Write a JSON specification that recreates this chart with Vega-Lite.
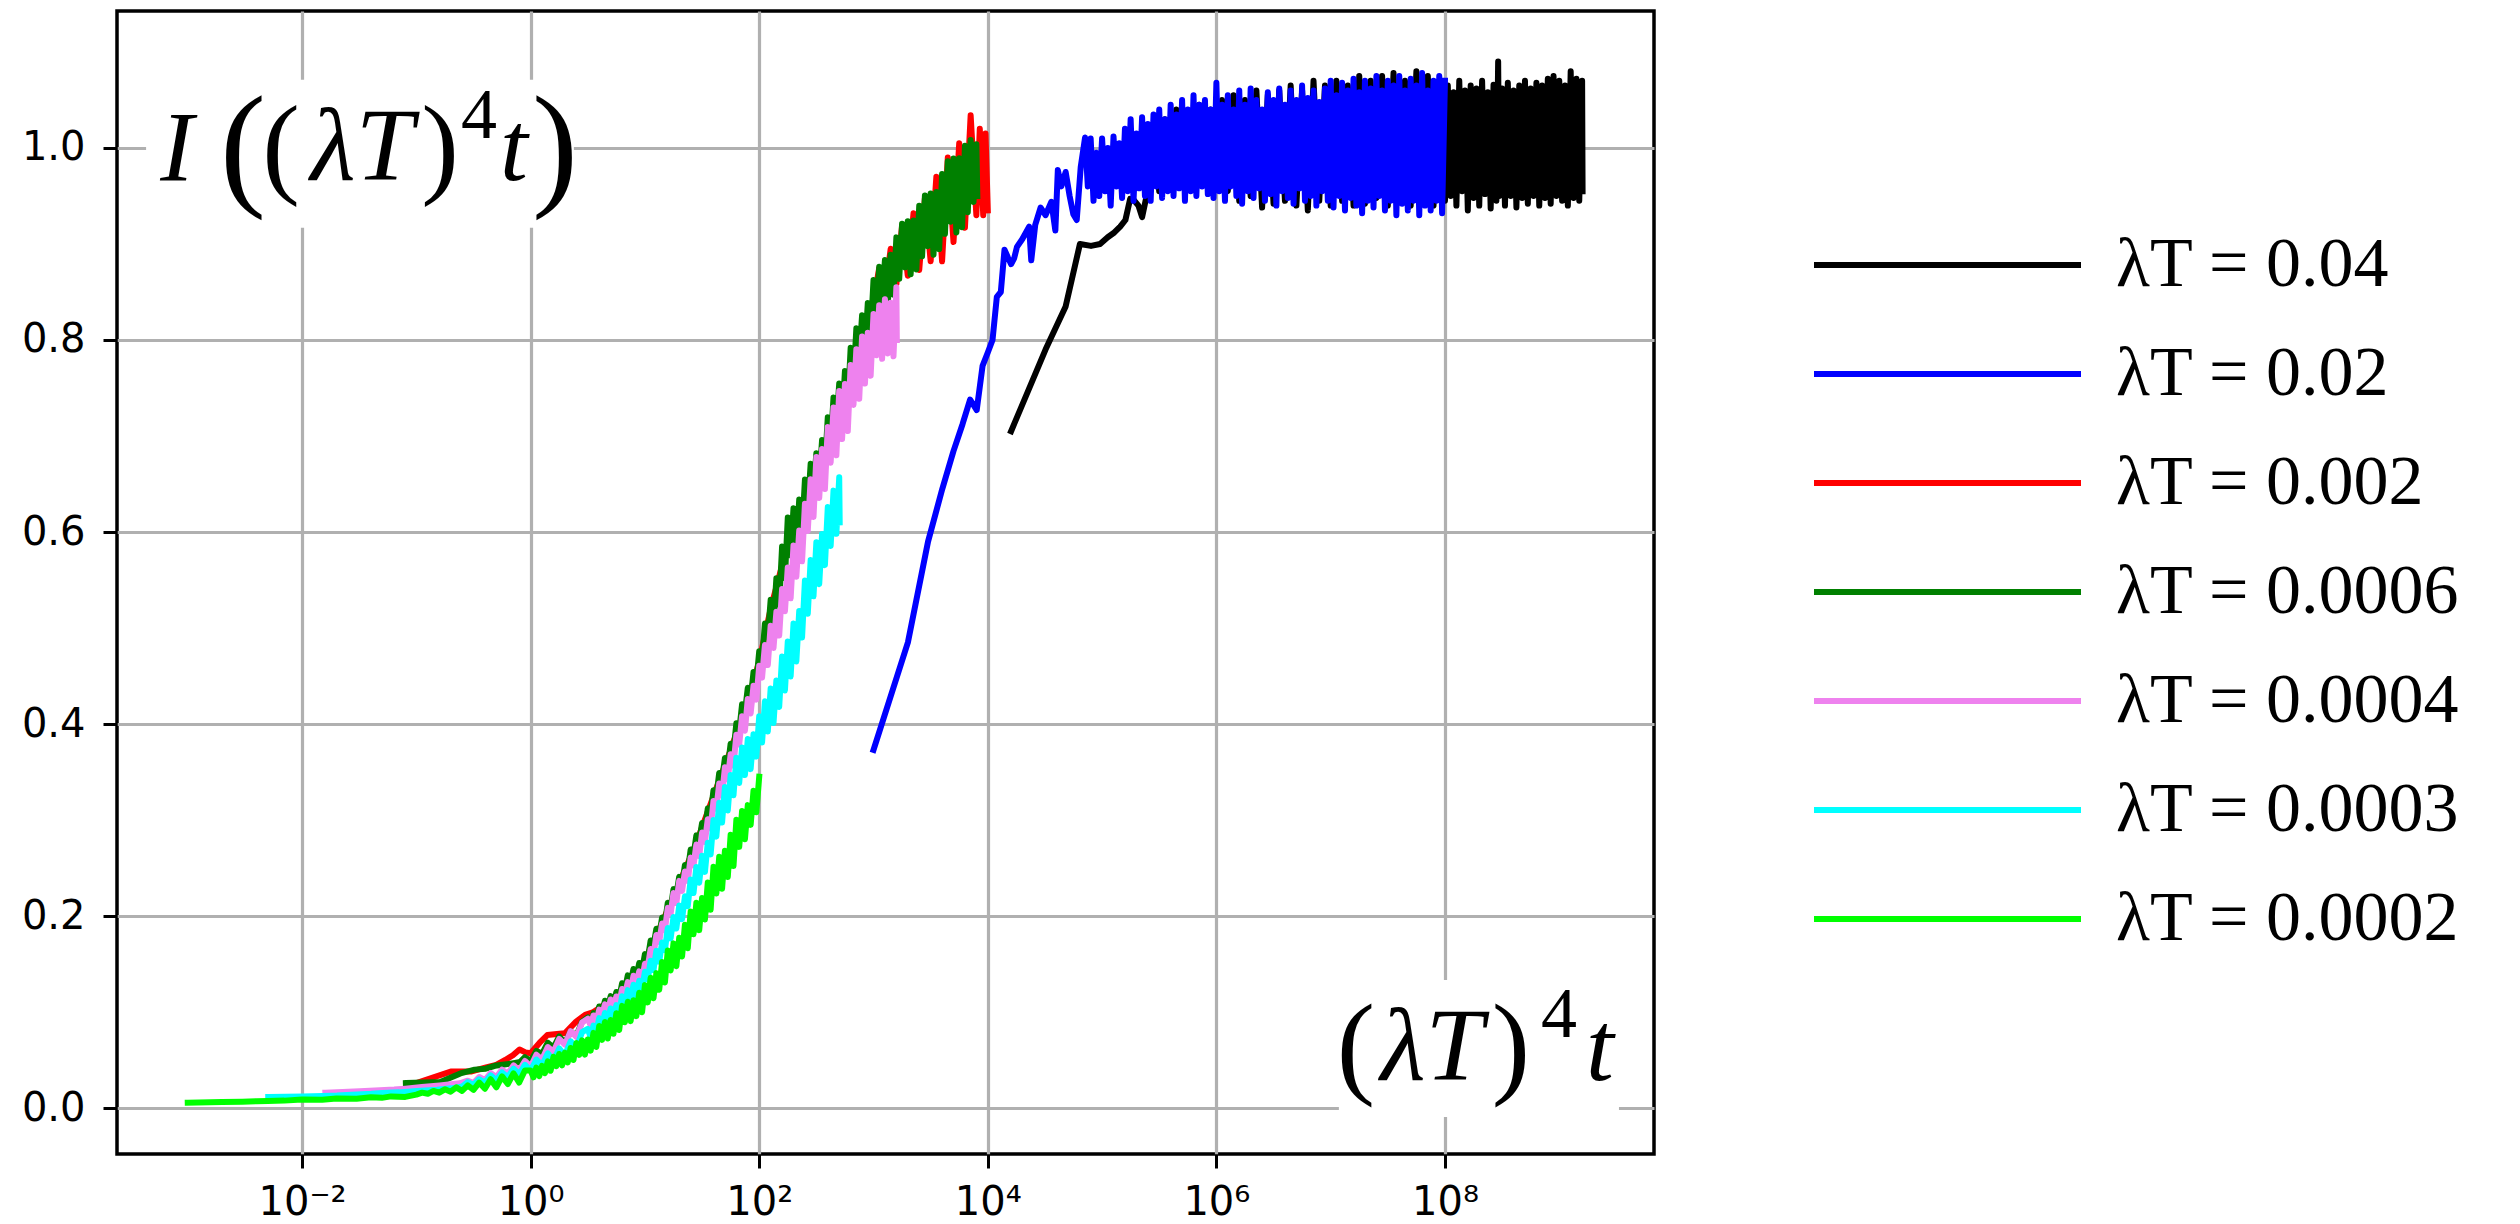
{
"$schema": "https://vega.github.io/schema/vega-lite/v6.json",
"width": 1537, "height": 1143,
"autosize": {"type": "none"},
"padding": {"left": 117, "top": 11, "right": 866, "bottom": 70},
"background": "white",
"config": {
 "view": {"stroke": "black", "strokeWidth": 3.5},
 "axis": {"domain": false, "grid": true, "gridColor": "#b0b0b0", "gridWidth": 3.2, "tickColor": "black", "tickWidth": 3, "tickSize": 14, "labelFont": "DejaVu Sans", "labelFontSize": 40, "labelColor": "black", "title": null}
},
"layer": [
{
"data": {"values": [
{"lt":"0.04","x":16000,"y":0.705},{"lt":"0.04","x":32000,"y":0.79},{"lt":"0.04","x":48000,"y":0.835},{"lt":"0.04","x":64000,"y":0.9},{"lt":"0.04","x":80000,"y":0.898},{"lt":"0.04","x":96000,"y":0.9},{"lt":"0.04","x":112000,"y":0.907},{"lt":"0.04","x":128000,"y":0.912},{"lt":"0.04","x":144000,"y":0.918},{"lt":"0.04","x":160000,"y":0.925},{"lt":"0.04","x":176000,"y":0.947},{"lt":"0.04","x":192000,"y":0.945},{"lt":"0.04","x":208000,"y":0.94},{"lt":"0.04","x":224000,"y":0.928},{"lt":"0.04","x":240000,"y":0.945},{"lt":"0.04","x":256000,"y":0.955},
{"lt":"0.04","x":2.818e5,"y":1.02},{"lt":"0.04","x":3.162e5,"y":0.955},{"lt":"0.04","x":3.548e5,"y":1.03},{"lt":"0.04","x":3.981e5,"y":0.965},{"lt":"0.04","x":4.467e5,"y":1.04},{"lt":"0.04","x":5.012e5,"y":0.962},{"lt":"0.04","x":5.623e5,"y":1.035},{"lt":"0.04","x":6.31e5,"y":0.958},{"lt":"0.04","x":7.079e5,"y":1.045},{"lt":"0.04","x":7.943e5,"y":0.965},{"lt":"0.04","x":8.913e5,"y":1.04},
{"lt":"0.04","x":1e6,"y":0.96},{"lt":"0.04","x":1.122e6,"y":1.05},{"lt":"0.04","x":1.259e6,"y":0.955},{"lt":"0.04","x":1.413e6,"y":1.055},{"lt":"0.04","x":1.585e6,"y":0.945},{"lt":"0.04","x":1.778e6,"y":1.05},{"lt":"0.04","x":1.995e6,"y":0.95},{"lt":"0.04","x":2.239e6,"y":1.06},{"lt":"0.04","x":2.512e6,"y":0.938},{"lt":"0.04","x":2.818e6,"y":1.055},{"lt":"0.04","x":3.162e6,"y":0.942},{"lt":"0.04","x":3.548e6,"y":1.06},{"lt":"0.04","x":3.981e6,"y":0.945},{"lt":"0.04","x":4.467e6,"y":1.065},{"lt":"0.04","x":5.012e6,"y":0.94},{"lt":"0.04","x":5.623e6,"y":1.06},{"lt":"0.04","x":6.31e6,"y":0.935},{"lt":"0.04","x":7.079e6,"y":1.07},{"lt":"0.04","x":7.943e6,"y":0.945},{"lt":"0.04","x":8.913e6,"y":1.065},
{"lt":"0.04","x":1e7,"y":0.94},{"lt":"0.04","x":1.122e7,"y":1.07},{"lt":"0.04","x":1.259e7,"y":0.945},{"lt":"0.04","x":1.413e7,"y":1.065},{"lt":"0.04","x":1.585e7,"y":0.94},{"lt":"0.04","x":1.778e7,"y":1.075},{"lt":"0.04","x":1.995e7,"y":0.942},{"lt":"0.04","x":2.239e7,"y":1.07},{"lt":"0.04","x":2.512e7,"y":0.948},{"lt":"0.04","x":2.818e7,"y":1.075},{"lt":"0.04","x":3.162e7,"y":0.94},{"lt":"0.04","x":3.548e7,"y":1.078},{"lt":"0.04","x":3.981e7,"y":0.945},{"lt":"0.04","x":4.467e7,"y":1.07},{"lt":"0.04","x":5.012e7,"y":0.94},{"lt":"0.04","x":5.623e7,"y":1.08},{"lt":"0.04","x":6.31e7,"y":0.945},{"lt":"0.04","x":7.079e7,"y":1.075},{"lt":"0.04","x":7.943e7,"y":0.94},{"lt":"0.04","x":8.913e7,"y":1.07},
{"lt":"0.04","x":1e8,"y":0.945},{"lt":"0.04","x":1.059e8,"y":1.065},{"lt":"0.04","x":1.122e8,"y":0.95},{"lt":"0.04","x":1.189e8,"y":1.058},{"lt":"0.04","x":1.259e8,"y":0.94},{"lt":"0.04","x":1.334e8,"y":1.07},{"lt":"0.04","x":1.413e8,"y":0.955},{"lt":"0.04","x":1.496e8,"y":1.06},{"lt":"0.04","x":1.585e8,"y":0.935},{"lt":"0.04","x":1.679e8,"y":1.065},{"lt":"0.04","x":1.778e8,"y":0.948},{"lt":"0.04","x":1.884e8,"y":1.062},{"lt":"0.04","x":1.995e8,"y":0.94},{"lt":"0.04","x":2.113e8,"y":1.07},{"lt":"0.04","x":2.239e8,"y":0.952},{"lt":"0.04","x":2.371e8,"y":1.058},{"lt":"0.04","x":2.512e8,"y":0.937},{"lt":"0.04","x":2.661e8,"y":1.066},{"lt":"0.04","x":2.818e8,"y":0.945},{"lt":"0.04","x":2.92e8,"y":1.09},{"lt":"0.04","x":2.985e8,"y":0.95},{"lt":"0.04","x":3.162e8,"y":1.062},{"lt":"0.04","x":3.35e8,"y":0.94},{"lt":"0.04","x":3.548e8,"y":1.068},{"lt":"0.04","x":3.758e8,"y":0.95},{"lt":"0.04","x":3.981e8,"y":1.06},{"lt":"0.04","x":4.217e8,"y":0.938},{"lt":"0.04","x":4.467e8,"y":1.065},{"lt":"0.04","x":4.732e8,"y":0.948},{"lt":"0.04","x":5.012e8,"y":1.07},{"lt":"0.04","x":5.309e8,"y":0.942},{"lt":"0.04","x":5.623e8,"y":1.062},{"lt":"0.04","x":5.957e8,"y":0.95},{"lt":"0.04","x":6.31e8,"y":1.068},{"lt":"0.04","x":6.683e8,"y":0.94},{"lt":"0.04","x":7.079e8,"y":1.065},{"lt":"0.04","x":7.499e8,"y":0.948},{"lt":"0.04","x":7.943e8,"y":1.072},{"lt":"0.04","x":8.414e8,"y":0.942},{"lt":"0.04","x":8.913e8,"y":1.075},{"lt":"0.04","x":9.441e8,"y":0.95},{"lt":"0.04","x":1e9,"y":1.07},{"lt":"0.04","x":1.059e9,"y":0.945},{"lt":"0.04","x":1.122e9,"y":1.065},{"lt":"0.04","x":1.189e9,"y":0.94},{"lt":"0.04","x":1.259e9,"y":1.08},{"lt":"0.04","x":1.334e9,"y":0.948},{"lt":"0.04","x":1.413e9,"y":1.072},{"lt":"0.04","x":1.496e9,"y":0.945},{"lt":"0.04","x":1.585e9,"y":1.07},{"lt":"0.04","x":1.6e9,"y":0.955},

{"lt":"0.02","x":1000,"y":0.373},{"lt":"0.02","x":2000,"y":0.485},{"lt":"0.02","x":3000,"y":0.59},{"lt":"0.02","x":4000,"y":0.645},{"lt":"0.02","x":5000,"y":0.684},{"lt":"0.02","x":6000,"y":0.712},{"lt":"0.02","x":7000,"y":0.738},{"lt":"0.02","x":8000,"y":0.727},{"lt":"0.02","x":9000,"y":0.773},{"lt":"0.02","x":10000,"y":0.787},{"lt":"0.02","x":11000,"y":0.8},{"lt":"0.02","x":12000,"y":0.845},{"lt":"0.02","x":13000,"y":0.85},{"lt":"0.02","x":14000,"y":0.894},{"lt":"0.02","x":15000,"y":0.886},{"lt":"0.02","x":16000,"y":0.879},{"lt":"0.02","x":17000,"y":0.885},{"lt":"0.02","x":18000,"y":0.897},{"lt":"0.02","x":20000,"y":0.905},{"lt":"0.02","x":23000,"y":0.918},{"lt":"0.02","x":24000,"y":0.883},{"lt":"0.02","x":26000,"y":0.92},{"lt":"0.02","x":29000,"y":0.938},{"lt":"0.02","x":32000,"y":0.93},{"lt":"0.02","x":36000,"y":0.944},{"lt":"0.02","x":39000,"y":0.914},{"lt":"0.02","x":41000,"y":0.977},{"lt":"0.02","x":44000,"y":0.96},{"lt":"0.02","x":48000,"y":0.975},{"lt":"0.02","x":52000,"y":0.95},{"lt":"0.02","x":56000,"y":0.931},{"lt":"0.02","x":60000,"y":0.925},{"lt":"0.02","x":65000,"y":0.98},{"lt":"0.02","x":71000,"y":1.011},{"lt":"0.02","x":75000,"y":0.96},
{"lt":"0.02","x":7.943e4,"y":1.01},{"lt":"0.02","x":8.414e4,"y":0.945},{"lt":"0.02","x":8.913e4,"y":0.995},{"lt":"0.02","x":9.441e4,"y":0.95},{"lt":"0.02","x":1e5,"y":1.01},{"lt":"0.02","x":1.059e5,"y":0.955},{"lt":"0.02","x":1.122e5,"y":1.0},{"lt":"0.02","x":1.189e5,"y":0.94},{"lt":"0.02","x":1.259e5,"y":1.012},{"lt":"0.02","x":1.334e5,"y":0.96},{"lt":"0.02","x":1.413e5,"y":1.005},{"lt":"0.02","x":1.496e5,"y":0.948},{"lt":"0.02","x":1.585e5,"y":1.02},{"lt":"0.02","x":1.679e5,"y":0.955},{"lt":"0.02","x":1.778e5,"y":1.03},{"lt":"0.02","x":1.884e5,"y":0.945},{"lt":"0.02","x":1.995e5,"y":1.015},{"lt":"0.02","x":2.113e5,"y":0.958},{"lt":"0.02","x":2.239e5,"y":1.032},{"lt":"0.02","x":2.371e5,"y":0.95},{"lt":"0.02","x":2.512e5,"y":1.025},{"lt":"0.02","x":2.661e5,"y":0.945},{"lt":"0.02","x":2.818e5,"y":1.035},{"lt":"0.02","x":2.985e5,"y":0.96},{"lt":"0.02","x":3.162e5,"y":1.04},{"lt":"0.02","x":3.35e5,"y":0.948},{"lt":"0.02","x":3.548e5,"y":1.03},{"lt":"0.02","x":3.758e5,"y":0.955},{"lt":"0.02","x":3.981e5,"y":1.045},{"lt":"0.02","x":4.217e5,"y":0.95},{"lt":"0.02","x":4.467e5,"y":1.035},{"lt":"0.02","x":4.732e5,"y":0.958},{"lt":"0.02","x":5.012e5,"y":1.05},{"lt":"0.02","x":5.309e5,"y":0.945},{"lt":"0.02","x":5.623e5,"y":1.04},{"lt":"0.02","x":5.957e5,"y":0.955},{"lt":"0.02","x":6.31e5,"y":1.055},{"lt":"0.02","x":6.683e5,"y":0.95},{"lt":"0.02","x":7.079e5,"y":1.045},{"lt":"0.02","x":7.499e5,"y":0.96},{"lt":"0.02","x":7.943e5,"y":1.05},{"lt":"0.02","x":8.414e5,"y":0.952},{"lt":"0.02","x":8.913e5,"y":1.04},{"lt":"0.02","x":9.441e5,"y":0.948},
{"lt":"0.02","x":1e6,"y":1.068},{"lt":"0.02","x":1.059e6,"y":0.955},{"lt":"0.02","x":1.122e6,"y":1.045},{"lt":"0.02","x":1.189e6,"y":0.945},{"lt":"0.02","x":1.259e6,"y":1.055},{"lt":"0.02","x":1.334e6,"y":0.96},{"lt":"0.02","x":1.413e6,"y":1.04},{"lt":"0.02","x":1.496e6,"y":0.95},{"lt":"0.02","x":1.585e6,"y":1.06},{"lt":"0.02","x":1.679e6,"y":0.942},{"lt":"0.02","x":1.778e6,"y":1.045},{"lt":"0.02","x":1.884e6,"y":0.955},{"lt":"0.02","x":1.995e6,"y":1.062},{"lt":"0.02","x":2.113e6,"y":0.948},{"lt":"0.02","x":2.239e6,"y":1.05},{"lt":"0.02","x":2.371e6,"y":0.958},{"lt":"0.02","x":2.512e6,"y":1.04},{"lt":"0.02","x":2.661e6,"y":0.945},{"lt":"0.02","x":2.818e6,"y":1.058},{"lt":"0.02","x":2.985e6,"y":0.952},{"lt":"0.02","x":3.162e6,"y":1.05},{"lt":"0.02","x":3.35e6,"y":0.94},{"lt":"0.02","x":3.548e6,"y":1.062},{"lt":"0.02","x":3.758e6,"y":0.955},{"lt":"0.02","x":3.981e6,"y":1.045},{"lt":"0.02","x":4.217e6,"y":0.948},{"lt":"0.02","x":4.467e6,"y":1.06},{"lt":"0.02","x":4.732e6,"y":0.942},{"lt":"0.02","x":5.012e6,"y":1.05},{"lt":"0.02","x":5.309e6,"y":0.958},{"lt":"0.02","x":5.623e6,"y":1.065},{"lt":"0.02","x":5.957e6,"y":0.945},{"lt":"0.02","x":6.31e6,"y":1.052},{"lt":"0.02","x":6.683e6,"y":0.95},{"lt":"0.02","x":7.079e6,"y":1.06},{"lt":"0.02","x":7.499e6,"y":0.94},{"lt":"0.02","x":7.943e6,"y":1.048},{"lt":"0.02","x":8.414e6,"y":0.955},{"lt":"0.02","x":8.913e6,"y":1.062},{"lt":"0.02","x":9.441e6,"y":0.945},
{"lt":"0.02","x":1e7,"y":1.07},{"lt":"0.02","x":1.059e7,"y":0.938},{"lt":"0.02","x":1.122e7,"y":1.055},{"lt":"0.02","x":1.189e7,"y":0.95},{"lt":"0.02","x":1.259e7,"y":1.068},{"lt":"0.02","x":1.334e7,"y":0.935},{"lt":"0.02","x":1.413e7,"y":1.06},{"lt":"0.02","x":1.496e7,"y":0.948},{"lt":"0.02","x":1.585e7,"y":1.072},{"lt":"0.02","x":1.679e7,"y":0.94},{"lt":"0.02","x":1.778e7,"y":1.058},{"lt":"0.02","x":1.884e7,"y":0.932},{"lt":"0.02","x":1.995e7,"y":1.07},{"lt":"0.02","x":2.113e7,"y":0.945},{"lt":"0.02","x":2.239e7,"y":1.062},{"lt":"0.02","x":2.371e7,"y":0.938},{"lt":"0.02","x":2.512e7,"y":1.075},{"lt":"0.02","x":2.661e7,"y":0.95},{"lt":"0.02","x":2.818e7,"y":1.06},{"lt":"0.02","x":2.985e7,"y":0.935},{"lt":"0.02","x":3.162e7,"y":1.07},{"lt":"0.02","x":3.35e7,"y":0.945},{"lt":"0.02","x":3.548e7,"y":1.065},{"lt":"0.02","x":3.758e7,"y":0.93},{"lt":"0.02","x":3.981e7,"y":1.075},{"lt":"0.02","x":4.217e7,"y":0.942},{"lt":"0.02","x":4.467e7,"y":1.06},{"lt":"0.02","x":4.732e7,"y":0.935},{"lt":"0.02","x":5.012e7,"y":1.072},{"lt":"0.02","x":5.309e7,"y":0.945},{"lt":"0.02","x":5.623e7,"y":1.065},{"lt":"0.02","x":5.957e7,"y":0.93},{"lt":"0.02","x":6.31e7,"y":1.078},{"lt":"0.02","x":6.683e7,"y":0.94},{"lt":"0.02","x":7.079e7,"y":1.06},{"lt":"0.02","x":7.499e7,"y":0.935},{"lt":"0.02","x":7.943e7,"y":1.07},{"lt":"0.02","x":8.414e7,"y":0.945},{"lt":"0.02","x":8.913e7,"y":1.075},{"lt":"0.02","x":9.441e7,"y":0.932},{"lt":"0.02","x":1e8,"y":1.07},

{"lt":"0.002","x":0.1,"y":0.026},{"lt":"0.002","x":0.2,"y":0.038},{"lt":"0.002","x":0.3,"y":0.038},{"lt":"0.002","x":0.4,"y":0.042},{"lt":"0.002","x":0.5,"y":0.045},{"lt":"0.002","x":0.6,"y":0.05},{"lt":"0.002","x":0.7,"y":0.055},{"lt":"0.002","x":0.8,"y":0.061},{"lt":"0.002","x":0.9,"y":0.058},{"lt":"0.002","x":1.0,"y":0.057},{"lt":"0.002","x":1.2,"y":0.068},{"lt":"0.002","x":1.4,"y":0.076},{"lt":"0.002","x":1.7,"y":0.077},{"lt":"0.002","x":2.0,"y":0.078},{"lt":"0.002","x":2.5,"y":0.09},{"lt":"0.002","x":3.0,"y":0.097},
{"lt":"0.002","x":3.548,"y":0.1},{"lt":"0.002","x":5.012,"y":0.112},{"lt":"0.002","x":7.079,"y":0.127},{"lt":"0.002","x":10,"y":0.154},{"lt":"0.002","x":14.13,"y":0.193},{"lt":"0.002","x":19.95,"y":0.234},{"lt":"0.002","x":28.18,"y":0.276},{"lt":"0.002","x":39.81,"y":0.325},{"lt":"0.002","x":56.23,"y":0.373},{"lt":"0.002","x":79.43,"y":0.424},{"lt":"0.002","x":100,"y":0.465},{"lt":"0.002","x":125.9,"y":0.52},{"lt":"0.002","x":158.5,"y":0.565},{"lt":"0.002","x":199.5,"y":0.6},{"lt":"0.002","x":251.2,"y":0.635},{"lt":"0.002","x":316.2,"y":0.665},{"lt":"0.002","x":398.1,"y":0.695},{"lt":"0.002","x":501.2,"y":0.73},{"lt":"0.002","x":631,"y":0.77},{"lt":"0.002","x":794.3,"y":0.81},{"lt":"0.002","x":1000,"y":0.84},
{"lt":"0.002","x":1122,"y":0.875},{"lt":"0.002","x":1259,"y":0.848},{"lt":"0.002","x":1413,"y":0.895},{"lt":"0.002","x":1585,"y":0.858},{"lt":"0.002","x":1778,"y":0.919},{"lt":"0.002","x":1995,"y":0.867},{"lt":"0.002","x":2239,"y":0.932},{"lt":"0.002","x":2512,"y":0.873},{"lt":"0.002","x":2818,"y":0.948},{"lt":"0.002","x":3162,"y":0.882},{"lt":"0.002","x":3548,"y":0.97},{"lt":"0.002","x":3981,"y":0.882},{"lt":"0.002","x":4467,"y":0.99},{"lt":"0.002","x":5012,"y":0.902},{"lt":"0.002","x":5623,"y":1.005},{"lt":"0.002","x":6310,"y":0.917},{"lt":"0.002","x":7079,"y":1.034},{"lt":"0.002","x":7943,"y":0.93},{"lt":"0.002","x":8511,"y":1.02},{"lt":"0.002","x":9120,"y":0.93},{"lt":"0.002","x":9550,"y":1.015},{"lt":"0.002","x":10000,"y":0.935},

{"lt":"0.0006","x":0.081,"y":0.026},{"lt":"0.0006","x":0.162,"y":0.027},{"lt":"0.0006","x":0.243,"y":0.036},{"lt":"0.0006","x":0.324,"y":0.04},{"lt":"0.0006","x":0.405,"y":0.041},{"lt":"0.0006","x":0.486,"y":0.044},{"lt":"0.0006","x":0.567,"y":0.045},{"lt":"0.0006","x":0.648,"y":0.046},{"lt":"0.0006","x":0.729,"y":0.047},{"lt":"0.0006","x":0.81,"y":0.048},
{"lt":"0.0006","x":0.8913,"y":0.053},{"lt":"0.0006","x":1,"y":0.049},{"lt":"0.0006","x":1.122,"y":0.0595},{"lt":"0.0006","x":1.259,"y":0.0565},{"lt":"0.0006","x":1.413,"y":0.068},{"lt":"0.0006","x":1.585,"y":0.063},{"lt":"0.0006","x":1.778,"y":0.0745},{"lt":"0.0006","x":1.995,"y":0.0675},{"lt":"0.0006","x":2.239,"y":0.08},{"lt":"0.0006","x":2.512,"y":0.075},{"lt":"0.0006","x":2.818,"y":0.09},
{"lt":"0.0006","x":3.162,"y":0.0943},{"lt":"0.0006","x":3.35,"y":0.0876},{"lt":"0.0006","x":3.548,"y":0.0988},{"lt":"0.0006","x":3.758,"y":0.0928},{"lt":"0.0006","x":3.981,"y":0.1057},{"lt":"0.0006","x":4.217,"y":0.0994},{"lt":"0.0006","x":4.467,"y":0.1118},{"lt":"0.0006","x":4.732,"y":0.1055},{"lt":"0.0006","x":5.012,"y":0.1165},{"lt":"0.0006","x":5.309,"y":0.1084},{"lt":"0.0006","x":5.623,"y":0.1209},{"lt":"0.0006","x":5.957,"y":0.1146},{"lt":"0.0006","x":6.31,"y":0.13},{"lt":"0.0006","x":6.683,"y":0.1234},{"lt":"0.0006","x":7.079,"y":0.1382},{"lt":"0.0006","x":7.499,"y":0.1316},{"lt":"0.0006","x":7.943,"y":0.1448},{"lt":"0.0006","x":8.414,"y":0.1362},{"lt":"0.0006","x":8.913,"y":0.151},{"lt":"0.0006","x":9.441,"y":0.1434},
{"lt":"0.0006","x":10,"y":0.1603},{"lt":"0.0006","x":10.59,"y":0.1553},{"lt":"0.0006","x":11.22,"y":0.1744},{"lt":"0.0006","x":11.89,"y":0.1694},{"lt":"0.0006","x":12.59,"y":0.1867},{"lt":"0.0006","x":13.34,"y":0.1795},{"lt":"0.0006","x":14.13,"y":0.1985},{"lt":"0.0006","x":14.96,"y":0.1925},{"lt":"0.0006","x":15.85,"y":0.2138},{"lt":"0.0006","x":16.79,"y":0.2075},{"lt":"0.0006","x":17.78,"y":0.228},{"lt":"0.0006","x":18.84,"y":0.2222},{"lt":"0.0006","x":19.95,"y":0.2408},{"lt":"0.0006","x":21.13,"y":0.233},{"lt":"0.0006","x":22.39,"y":0.2532},{"lt":"0.0006","x":23.71,"y":0.247},{"lt":"0.0006","x":25.12,"y":0.2692},{"lt":"0.0006","x":26.61,"y":0.263},{"lt":"0.0006","x":28.18,"y":0.284},{"lt":"0.0006","x":29.85,"y":0.2782},
{"lt":"0.0006","x":31.62,"y":0.2968},{"lt":"0.0006","x":33.5,"y":0.2901},{"lt":"0.0006","x":35.48,"y":0.3121},{"lt":"0.0006","x":37.58,"y":0.3063},{"lt":"0.0006","x":39.81,"y":0.3311},{"lt":"0.0006","x":42.17,"y":0.3248},{"lt":"0.0006","x":44.67,"y":0.349},{"lt":"0.0006","x":47.32,"y":0.3425},{"lt":"0.0006","x":50.12,"y":0.3646},{"lt":"0.0006","x":53.09,"y":0.3549},{"lt":"0.0006","x":56.23,"y":0.3795},{"lt":"0.0006","x":59.57,"y":0.372},{"lt":"0.0006","x":63.1,"y":0.4008},{"lt":"0.0006","x":66.83,"y":0.3927},{"lt":"0.0006","x":70.79,"y":0.4206},{"lt":"0.0006","x":74.99,"y":0.4124},{"lt":"0.0006","x":79.43,"y":0.4377},{"lt":"0.0006","x":84.14,"y":0.426},{"lt":"0.0006","x":89.13,"y":0.4541},{"lt":"0.0006","x":94.41,"y":0.444},
{"lt":"0.0006","x":100,"y":0.4758},{"lt":"0.0006","x":105.9,"y":0.4667},{"lt":"0.0006","x":112.2,"y":0.5046},{"lt":"0.0006","x":118.9,"y":0.4906},{"lt":"0.0006","x":125.9,"y":0.5293},{"lt":"0.0006","x":133.4,"y":0.504},{"lt":"0.0006","x":141.3,"y":0.5518},{"lt":"0.0006","x":149.6,"y":0.5244},{"lt":"0.0006","x":158.5,"y":0.5848},{"lt":"0.0006","x":167.9,"y":0.5519},{"lt":"0.0006","x":177.8,"y":0.615},{"lt":"0.0006","x":188.4,"y":0.5756},{"lt":"0.0006","x":199.5,"y":0.6248},{"lt":"0.0006","x":211.3,"y":0.582},{"lt":"0.0006","x":223.9,"y":0.6339},{"lt":"0.0006","x":237.1,"y":0.6},{"lt":"0.0006","x":251.2,"y":0.6546},{"lt":"0.0006","x":266.1,"y":0.6238},{"lt":"0.0006","x":281.8,"y":0.671},{"lt":"0.0006","x":298.5,"y":0.6444},
{"lt":"0.0006","x":316.2,"y":0.682},{"lt":"0.0006","x":335,"y":0.6528},{"lt":"0.0006","x":354.8,"y":0.6959},{"lt":"0.0006","x":375.8,"y":0.6684},{"lt":"0.0006","x":398.1,"y":0.7195},{"lt":"0.0006","x":421.7,"y":0.6899},{"lt":"0.0006","x":446.7,"y":0.7402},{"lt":"0.0006","x":473.2,"y":0.7096},{"lt":"0.0006","x":501.2,"y":0.7548},{"lt":"0.0006","x":530.9,"y":0.7152},{"lt":"0.0006","x":562.3,"y":0.7676},{"lt":"0.0006","x":595.7,"y":0.7322},{"lt":"0.0006","x":631,"y":0.7919},{"lt":"0.0006","x":668.3,"y":0.7572},{"lt":"0.0006","x":707.9,"y":0.8122},{"lt":"0.0006","x":749.9,"y":0.7794},{"lt":"0.0006","x":794.3,"y":0.8259},{"lt":"0.0006","x":841.4,"y":0.7874},{"lt":"0.0006","x":891.3,"y":0.8385},{"lt":"0.0006","x":944.1,"y":0.8058},
{"lt":"0.0006","x":1000,"y":0.8625},{"lt":"0.0006","x":1059,"y":0.826},{"lt":"0.0006","x":1122,"y":0.8762},{"lt":"0.0006","x":1189,"y":0.8394},{"lt":"0.0006","x":1259,"y":0.8834},{"lt":"0.0006","x":1334,"y":0.838},{"lt":"0.0006","x":1413,"y":0.8888},{"lt":"0.0006","x":1496,"y":0.8472},{"lt":"0.0006","x":1585,"y":0.9069},{"lt":"0.0006","x":1679,"y":0.8638},{"lt":"0.0006","x":1778,"y":0.921},{"lt":"0.0006","x":1884,"y":0.8757},{"lt":"0.0006","x":1995,"y":0.9237},{"lt":"0.0006","x":2113,"y":0.8685},{"lt":"0.0006","x":2239,"y":0.9245},{"lt":"0.0006","x":2371,"y":0.8735},{"lt":"0.0006","x":2512,"y":0.9398},{"lt":"0.0006","x":2661,"y":0.8871},{"lt":"0.0006","x":2818,"y":0.9506},{"lt":"0.0006","x":2985,"y":0.8977},
{"lt":"0.0006","x":3162,"y":0.9526},{"lt":"0.0006","x":3350,"y":0.8889},{"lt":"0.0006","x":3548,"y":0.9542},{"lt":"0.0006","x":3758,"y":0.8947},{"lt":"0.0006","x":3981,"y":0.9728},{"lt":"0.0006","x":4217,"y":0.9106},{"lt":"0.0006","x":4467,"y":0.9862},{"lt":"0.0006","x":4732,"y":0.9232},{"lt":"0.0006","x":5012,"y":0.9891},{"lt":"0.0006","x":5309,"y":0.9121},{"lt":"0.0006","x":5623,"y":0.9893},{"lt":"0.0006","x":5957,"y":0.9175},{"lt":"0.0006","x":6310,"y":1.0023},{"lt":"0.0006","x":6683,"y":0.9331},{"lt":"0.0006","x":7079,"y":1.0084},{"lt":"0.0006","x":7499,"y":0.9438},{"lt":"0.0006","x":7943,"y":1.004},{"lt":"0.0006","x":8100,"y":0.95},

{"lt":"0.0004","x":0.016,"y":0.016},{"lt":"0.0004","x":0.032,"y":0.0175},{"lt":"0.0004","x":0.048,"y":0.0186},{"lt":"0.0004","x":0.064,"y":0.0192},{"lt":"0.0004","x":0.08,"y":0.0202},{"lt":"0.0004","x":0.112,"y":0.0218},{"lt":"0.0004","x":0.16,"y":0.0235},{"lt":"0.0004","x":0.24,"y":0.0258},
{"lt":"0.0004","x":0.2818,"y":0.0285},{"lt":"0.0004","x":0.3162,"y":0.026},{"lt":"0.0004","x":0.3548,"y":0.0323},{"lt":"0.0004","x":0.3981,"y":0.0291},{"lt":"0.0004","x":0.4467,"y":0.0364},{"lt":"0.0004","x":0.5012,"y":0.0322},{"lt":"0.0004","x":0.5623,"y":0.04},{"lt":"0.0004","x":0.631,"y":0.0355},{"lt":"0.0004","x":0.7079,"y":0.0445},{"lt":"0.0004","x":0.7943,"y":0.039},{"lt":"0.0004","x":0.8913,"y":0.049},
{"lt":"0.0004","x":1,"y":0.043},{"lt":"0.0004","x":1.122,"y":0.0555},{"lt":"0.0004","x":1.259,"y":0.0505},{"lt":"0.0004","x":1.413,"y":0.0635},{"lt":"0.0004","x":1.585,"y":0.0585},{"lt":"0.0004","x":1.778,"y":0.072},{"lt":"0.0004","x":1.995,"y":0.066},{"lt":"0.0004","x":2.239,"y":0.08},{"lt":"0.0004","x":2.512,"y":0.074},{"lt":"0.0004","x":2.818,"y":0.089},
{"lt":"0.0004","x":3.162,"y":0.093},{"lt":"0.0004","x":3.35,"y":0.0864},{"lt":"0.0004","x":3.548,"y":0.0964},{"lt":"0.0004","x":3.758,"y":0.0899},{"lt":"0.0004","x":3.981,"y":0.1025},{"lt":"0.0004","x":4.217,"y":0.0967},{"lt":"0.0004","x":4.467,"y":0.108},{"lt":"0.0004","x":4.732,"y":0.0999},{"lt":"0.0004","x":5.012,"y":0.113},{"lt":"0.0004","x":5.309,"y":0.1049},{"lt":"0.0004","x":5.623,"y":0.1162},{"lt":"0.0004","x":5.957,"y":0.1091},{"lt":"0.0004","x":6.31,"y":0.124},{"lt":"0.0004","x":6.683,"y":0.1178},{"lt":"0.0004","x":7.079,"y":0.1312},{"lt":"0.0004","x":7.499,"y":0.1225},{"lt":"0.0004","x":7.943,"y":0.1378},{"lt":"0.0004","x":8.414,"y":0.129},{"lt":"0.0004","x":8.913,"y":0.1424},{"lt":"0.0004","x":9.441,"y":0.1339},
{"lt":"0.0004","x":10,"y":0.1503},{"lt":"0.0004","x":10.59,"y":0.1468},{"lt":"0.0004","x":11.22,"y":0.1656},{"lt":"0.0004","x":11.89,"y":0.1588},{"lt":"0.0004","x":12.59,"y":0.1802},{"lt":"0.0004","x":13.34,"y":0.1731},{"lt":"0.0004","x":14.13,"y":0.1923},{"lt":"0.0004","x":14.96,"y":0.1853},{"lt":"0.0004","x":15.85,"y":0.2085},{"lt":"0.0004","x":16.79,"y":0.2026},{"lt":"0.0004","x":17.78,"y":0.224},{"lt":"0.0004","x":18.84,"y":0.2135},{"lt":"0.0004","x":19.95,"y":0.2366},{"lt":"0.0004","x":21.13,"y":0.2262},{"lt":"0.0004","x":22.39,"y":0.2464},{"lt":"0.0004","x":23.71,"y":0.2365},{"lt":"0.0004","x":25.12,"y":0.2608},{"lt":"0.0004","x":26.61,"y":0.2526},{"lt":"0.0004","x":28.18,"y":0.2744},{"lt":"0.0004","x":29.85,"y":0.2624},
{"lt":"0.0004","x":31.62,"y":0.287},{"lt":"0.0004","x":33.5,"y":0.2771},{"lt":"0.0004","x":35.48,"y":0.3009},{"lt":"0.0004","x":37.58,"y":0.2913},{"lt":"0.0004","x":39.81,"y":0.3199},{"lt":"0.0004","x":42.17,"y":0.3119},{"lt":"0.0004","x":44.67,"y":0.338},{"lt":"0.0004","x":47.32,"y":0.3254},{"lt":"0.0004","x":50.12,"y":0.355},{"lt":"0.0004","x":53.09,"y":0.3423},{"lt":"0.0004","x":56.23,"y":0.3684},{"lt":"0.0004","x":59.57,"y":0.3566},{"lt":"0.0004","x":63.1,"y":0.3888},{"lt":"0.0004","x":66.83,"y":0.3788},{"lt":"0.0004","x":70.79,"y":0.408},{"lt":"0.0004","x":74.99,"y":0.393},{"lt":"0.0004","x":79.43,"y":0.426},{"lt":"0.0004","x":84.14,"y":0.4109},{"lt":"0.0004","x":89.13,"y":0.4399},{"lt":"0.0004","x":94.41,"y":0.4254},
{"lt":"0.0004","x":100,"y":0.4606},{"lt":"0.0004","x":105.9,"y":0.4483},{"lt":"0.0004","x":112.2,"y":0.4822},{"lt":"0.0004","x":118.9,"y":0.4614},{"lt":"0.0004","x":125.9,"y":0.5024},{"lt":"0.0004","x":133.4,"y":0.4792},{"lt":"0.0004","x":141.3,"y":0.5168},{"lt":"0.0004","x":149.6,"y":0.4921},{"lt":"0.0004","x":158.5,"y":0.5407},{"lt":"0.0004","x":167.9,"y":0.5175},{"lt":"0.0004","x":177.8,"y":0.563},{"lt":"0.0004","x":188.4,"y":0.531},{"lt":"0.0004","x":199.5,"y":0.586},{"lt":"0.0004","x":211.3,"y":0.5534},{"lt":"0.0004","x":223.9,"y":0.6015},{"lt":"0.0004","x":237.1,"y":0.5695},{"lt":"0.0004","x":251.2,"y":0.6294},{"lt":"0.0004","x":266.1,"y":0.6011},{"lt":"0.0004","x":281.8,"y":0.655},{"lt":"0.0004","x":298.5,"y":0.6156},
{"lt":"0.0004","x":316.2,"y":0.678},{"lt":"0.0004","x":335,"y":0.6353},{"lt":"0.0004","x":354.8,"y":0.6865},{"lt":"0.0004","x":375.8,"y":0.6448},{"lt":"0.0004","x":398.1,"y":0.7094},{"lt":"0.0004","x":421.7,"y":0.6722},{"lt":"0.0004","x":446.7,"y":0.7296},{"lt":"0.0004","x":473.2,"y":0.6799},{"lt":"0.0004","x":501.2,"y":0.7468},{"lt":"0.0004","x":530.9,"y":0.6969},{"lt":"0.0004","x":562.3,"y":0.7541},{"lt":"0.0004","x":595.7,"y":0.7052},{"lt":"0.0004","x":631,"y":0.774},{"lt":"0.0004","x":668.3,"y":0.7324},{"lt":"0.0004","x":707.9,"y":0.7904},{"lt":"0.0004","x":749.9,"y":0.7387},{"lt":"0.0004","x":794.3,"y":0.8036},{"lt":"0.0004","x":841.4,"y":0.7546},{"lt":"0.0004","x":891.3,"y":0.8076},{"lt":"0.0004","x":944.1,"y":0.7628},
{"lt":"0.0004","x":1000,"y":0.827},{"lt":"0.0004","x":1059,"y":0.7841},{"lt":"0.0004","x":1122,"y":0.8363},{"lt":"0.0004","x":1189,"y":0.7804},{"lt":"0.0004","x":1259,"y":0.8425},{"lt":"0.0004","x":1334,"y":0.786},{"lt":"0.0004","x":1413,"y":0.8387},{"lt":"0.0004","x":1496,"y":0.7831},{"lt":"0.0004","x":1585,"y":0.855},{"lt":"0.0004","x":1600,"y":0.8},

{"lt":"0.0003","x":0.00506,"y":0.0115},{"lt":"0.0003","x":0.0101,"y":0.012},{"lt":"0.0003","x":0.0152,"y":0.0126},{"lt":"0.0003","x":0.0202,"y":0.013},{"lt":"0.0003","x":0.0304,"y":0.0142},{"lt":"0.0003","x":0.0405,"y":0.0148},{"lt":"0.0003","x":0.0506,"y":0.0157},{"lt":"0.0003","x":0.0708,"y":0.0163},{"lt":"0.0003","x":0.101,"y":0.0178},{"lt":"0.0003","x":0.152,"y":0.019},{"lt":"0.0003","x":0.202,"y":0.0205},{"lt":"0.0003","x":0.253,"y":0.0225},
{"lt":"0.0003","x":0.2818,"y":0.027},{"lt":"0.0003","x":0.3162,"y":0.024},{"lt":"0.0003","x":0.3548,"y":0.03},{"lt":"0.0003","x":0.3981,"y":0.0265},{"lt":"0.0003","x":0.4467,"y":0.034},{"lt":"0.0003","x":0.5012,"y":0.029},{"lt":"0.0003","x":0.5623,"y":0.037},{"lt":"0.0003","x":0.631,"y":0.032},{"lt":"0.0003","x":0.7079,"y":0.041},{"lt":"0.0003","x":0.7943,"y":0.035},{"lt":"0.0003","x":0.8913,"y":0.045},
{"lt":"0.0003","x":1,"y":0.039},{"lt":"0.0003","x":1.122,"y":0.0505},{"lt":"0.0003","x":1.259,"y":0.0445},{"lt":"0.0003","x":1.413,"y":0.057},{"lt":"0.0003","x":1.585,"y":0.049},{"lt":"0.0003","x":1.778,"y":0.062},{"lt":"0.0003","x":1.995,"y":0.055},{"lt":"0.0003","x":2.239,"y":0.0695},{"lt":"0.0003","x":2.512,"y":0.0625},{"lt":"0.0003","x":2.818,"y":0.079},
{"lt":"0.0003","x":3.162,"y":0.0824},{"lt":"0.0003","x":3.35,"y":0.0736},{"lt":"0.0003","x":3.548,"y":0.0859},{"lt":"0.0003","x":3.758,"y":0.0796},{"lt":"0.0003","x":3.981,"y":0.0936},{"lt":"0.0003","x":4.217,"y":0.0856},{"lt":"0.0003","x":4.467,"y":0.099},{"lt":"0.0003","x":4.732,"y":0.0901},{"lt":"0.0003","x":5.012,"y":0.1037},{"lt":"0.0003","x":5.309,"y":0.0938},{"lt":"0.0003","x":5.623,"y":0.1072},{"lt":"0.0003","x":5.957,"y":0.1001},{"lt":"0.0003","x":6.31,"y":0.1164},{"lt":"0.0003","x":6.683,"y":0.1072},{"lt":"0.0003","x":7.079,"y":0.1228},{"lt":"0.0003","x":7.499,"y":0.1125},{"lt":"0.0003","x":7.943,"y":0.1284},{"lt":"0.0003","x":8.414,"y":0.117},{"lt":"0.0003","x":8.913,"y":0.1325},{"lt":"0.0003","x":9.441,"y":0.1242},
{"lt":"0.0003","x":10,"y":0.142},{"lt":"0.0003","x":10.59,"y":0.1338},{"lt":"0.0003","x":11.22,"y":0.1534},{"lt":"0.0003","x":11.89,"y":0.1436},{"lt":"0.0003","x":12.59,"y":0.1639},{"lt":"0.0003","x":13.34,"y":0.1525},{"lt":"0.0003","x":14.13,"y":0.1725},{"lt":"0.0003","x":14.96,"y":0.1645},{"lt":"0.0003","x":15.85,"y":0.1876},{"lt":"0.0003","x":16.79,"y":0.1766},{"lt":"0.0003","x":17.78,"y":0.199},{"lt":"0.0003","x":18.84,"y":0.187},{"lt":"0.0003","x":19.95,"y":0.2109},{"lt":"0.0003","x":21.13,"y":0.1967},{"lt":"0.0003","x":22.39,"y":0.2205},{"lt":"0.0003","x":23.71,"y":0.2102},{"lt":"0.0003","x":25.12,"y":0.238},{"lt":"0.0003","x":26.61,"y":0.2239},{"lt":"0.0003","x":28.18,"y":0.251},{"lt":"0.0003","x":29.85,"y":0.2346},
{"lt":"0.0003","x":31.62,"y":0.2627},{"lt":"0.0003","x":33.5,"y":0.246},{"lt":"0.0003","x":35.48,"y":0.2764},{"lt":"0.0003","x":37.58,"y":0.2642},{"lt":"0.0003","x":39.81,"y":0.3},{"lt":"0.0003","x":42.17,"y":0.2827},{"lt":"0.0003","x":44.67,"y":0.318},{"lt":"0.0003","x":47.32,"y":0.2973},{"lt":"0.0003","x":50.12,"y":0.3343},{"lt":"0.0003","x":53.09,"y":0.31},{"lt":"0.0003","x":56.23,"y":0.3468},{"lt":"0.0003","x":59.57,"y":0.3257},{"lt":"0.0003","x":63.1,"y":0.3648},{"lt":"0.0003","x":66.83,"y":0.3386},{"lt":"0.0003","x":70.79,"y":0.3756},{"lt":"0.0003","x":74.99,"y":0.3468},{"lt":"0.0003","x":79.43,"y":0.3845},{"lt":"0.0003","x":84.14,"y":0.353},{"lt":"0.0003","x":89.13,"y":0.3894},{"lt":"0.0003","x":94.41,"y":0.366},
{"lt":"0.0003","x":100,"y":0.408},{"lt":"0.0003","x":105.9,"y":0.3808},{"lt":"0.0003","x":112.2,"y":0.4236},{"lt":"0.0003","x":118.9,"y":0.3922},{"lt":"0.0003","x":125.9,"y":0.437},{"lt":"0.0003","x":133.4,"y":0.401},{"lt":"0.0003","x":141.3,"y":0.4454},{"lt":"0.0003","x":149.6,"y":0.4178},{"lt":"0.0003","x":158.5,"y":0.4704},{"lt":"0.0003","x":167.9,"y":0.435},{"lt":"0.0003","x":177.8,"y":0.486},{"lt":"0.0003","x":188.4,"y":0.4496},{"lt":"0.0003","x":199.5,"y":0.5046},{"lt":"0.0003","x":211.3,"y":0.4652},{"lt":"0.0003","x":223.9,"y":0.5178},{"lt":"0.0003","x":237.1,"y":0.49},{"lt":"0.0003","x":251.2,"y":0.5496},{"lt":"0.0003","x":266.1,"y":0.5148},{"lt":"0.0003","x":281.8,"y":0.5708},{"lt":"0.0003","x":298.5,"y":0.533},
{"lt":"0.0003","x":316.2,"y":0.5893},{"lt":"0.0003","x":335,"y":0.5457},{"lt":"0.0003","x":354.8,"y":0.598},{"lt":"0.0003","x":375.8,"y":0.5655},{"lt":"0.0003","x":398.1,"y":0.626},{"lt":"0.0003","x":421.7,"y":0.5854},{"lt":"0.0003","x":446.7,"y":0.6431},{"lt":"0.0003","x":473.2,"y":0.5982},{"lt":"0.0003","x":501.2,"y":0.657},{"lt":"0.0003","x":506,"y":0.61},

{"lt":"0.0002","x":0.001,"y":0.0055},{"lt":"0.0002","x":0.002,"y":0.0062},{"lt":"0.0002","x":0.003,"y":0.0066},{"lt":"0.0002","x":0.004,"y":0.007},{"lt":"0.0002","x":0.005,"y":0.0073},{"lt":"0.0002","x":0.007,"y":0.0077},{"lt":"0.0002","x":0.01,"y":0.0088},{"lt":"0.0002","x":0.015,"y":0.0086},{"lt":"0.0002","x":0.02,"y":0.01},{"lt":"0.0002","x":0.03,"y":0.0097},{"lt":"0.0002","x":0.04,"y":0.0112},{"lt":"0.0002","x":0.05,"y":0.0106},{"lt":"0.0002","x":0.06,"y":0.0121},{"lt":"0.0002","x":0.08,"y":0.0116},{"lt":"0.0002","x":0.1,"y":0.014},
{"lt":"0.0002","x":0.1122,"y":0.016},{"lt":"0.0002","x":0.1259,"y":0.0148},{"lt":"0.0002","x":0.1413,"y":0.0178},{"lt":"0.0002","x":0.1585,"y":0.016},{"lt":"0.0002","x":0.1778,"y":0.0195},{"lt":"0.0002","x":0.1995,"y":0.017},{"lt":"0.0002","x":0.2239,"y":0.0215},{"lt":"0.0002","x":0.2512,"y":0.0178},{"lt":"0.0002","x":0.2818,"y":0.0235},{"lt":"0.0002","x":0.3162,"y":0.019},{"lt":"0.0002","x":0.3548,"y":0.0265},{"lt":"0.0002","x":0.3981,"y":0.02},{"lt":"0.0002","x":0.4467,"y":0.03},{"lt":"0.0002","x":0.5012,"y":0.0215},{"lt":"0.0002","x":0.5623,"y":0.033},{"lt":"0.0002","x":0.631,"y":0.025},{"lt":"0.0002","x":0.7079,"y":0.036},{"lt":"0.0002","x":0.7943,"y":0.0265},{"lt":"0.0002","x":0.8913,"y":0.039},
{"lt":"0.0002","x":1,"y":0.039},{"lt":"0.0002","x":1.059,"y":0.032},{"lt":"0.0002","x":1.122,"y":0.0421},{"lt":"0.0002","x":1.189,"y":0.0332},{"lt":"0.0002","x":1.259,"y":0.0439},{"lt":"0.0002","x":1.334,"y":0.0363},{"lt":"0.0002","x":1.413,"y":0.0486},{"lt":"0.0002","x":1.496,"y":0.0388},{"lt":"0.0002","x":1.585,"y":0.0534},{"lt":"0.0002","x":1.679,"y":0.0436},{"lt":"0.0002","x":1.778,"y":0.0563},{"lt":"0.0002","x":1.884,"y":0.0444},{"lt":"0.0002","x":1.995,"y":0.0576},{"lt":"0.0002","x":2.113,"y":0.0476},{"lt":"0.0002","x":2.239,"y":0.0626},{"lt":"0.0002","x":2.371,"y":0.05},{"lt":"0.0002","x":2.512,"y":0.0678},{"lt":"0.0002","x":2.661,"y":0.0553},{"lt":"0.0002","x":2.818,"y":0.0705},{"lt":"0.0002","x":2.985,"y":0.0556},
{"lt":"0.0002","x":3.162,"y":0.0714},{"lt":"0.0002","x":3.35,"y":0.0597},{"lt":"0.0002","x":3.548,"y":0.0783},{"lt":"0.0002","x":3.758,"y":0.0636},{"lt":"0.0002","x":3.981,"y":0.0854},{"lt":"0.0002","x":4.217,"y":0.071},{"lt":"0.0002","x":4.467,"y":0.0896},{"lt":"0.0002","x":4.732,"y":0.0724},{"lt":"0.0002","x":5.012,"y":0.0916},{"lt":"0.0002","x":5.309,"y":0.0773},{"lt":"0.0002","x":5.623,"y":0.0988},{"lt":"0.0002","x":5.957,"y":0.0813},{"lt":"0.0002","x":6.31,"y":0.1064},{"lt":"0.0002","x":6.683,"y":0.0894},{"lt":"0.0002","x":7.079,"y":0.1106},{"lt":"0.0002","x":7.499,"y":0.0905},{"lt":"0.0002","x":7.943,"y":0.1123},{"lt":"0.0002","x":8.414,"y":0.0957},{"lt":"0.0002","x":8.913,"y":0.1201},{"lt":"0.0002","x":9.441,"y":0.0997},
{"lt":"0.0002","x":10,"y":0.128},{"lt":"0.0002","x":10.59,"y":0.11},{"lt":"0.0002","x":11.22,"y":0.1357},{"lt":"0.0002","x":11.89,"y":0.1143},{"lt":"0.0002","x":12.59,"y":0.1405},{"lt":"0.0002","x":13.34,"y":0.1232},{"lt":"0.0002","x":14.13,"y":0.1522},{"lt":"0.0002","x":14.96,"y":0.1307},{"lt":"0.0002","x":15.85,"y":0.164},{"lt":"0.0002","x":16.79,"y":0.1433},{"lt":"0.0002","x":17.78,"y":0.1715},{"lt":"0.0002","x":18.84,"y":0.1477},{"lt":"0.0002","x":19.95,"y":0.1774},{"lt":"0.0002","x":21.13,"y":0.1579},{"lt":"0.0002","x":22.39,"y":0.191},{"lt":"0.0002","x":23.71,"y":0.1665},{"lt":"0.0002","x":25.12,"y":0.2048},{"lt":"0.0002","x":26.61,"y":0.181},{"lt":"0.0002","x":28.18,"y":0.2137},{"lt":"0.0002","x":29.85,"y":0.1853},
{"lt":"0.0002","x":31.62,"y":0.2188},{"lt":"0.0002","x":33.5,"y":0.1964},{"lt":"0.0002","x":35.48,"y":0.2348},{"lt":"0.0002","x":37.58,"y":0.2065},{"lt":"0.0002","x":39.81,"y":0.2512},{"lt":"0.0002","x":42.17,"y":0.2235},{"lt":"0.0002","x":44.67,"y":0.2618},{"lt":"0.0002","x":47.32,"y":0.2285},{"lt":"0.0002","x":50.12,"y":0.2679},{"lt":"0.0002","x":53.09,"y":0.2406},{"lt":"0.0002","x":56.23,"y":0.2846},{"lt":"0.0002","x":59.57,"y":0.252},{"lt":"0.0002","x":63.1,"y":0.3002},{"lt":"0.0002","x":66.83,"y":0.272},{"lt":"0.0002","x":70.79,"y":0.3095},{"lt":"0.0002","x":74.99,"y":0.28},{"lt":"0.0002","x":79.43,"y":0.3155},{"lt":"0.0002","x":84.14,"y":0.2949},{"lt":"0.0002","x":89.13,"y":0.3305},{"lt":"0.0002","x":94.41,"y":0.308},{"lt":"0.0002","x":100,"y":0.345}
]},
"mark": {"type": "line", "strokeWidth": 6, "strokeJoin": "round", "strokeCap": "square"},
"encoding": {
 "x": {"field": "x", "type": "quantitative",
   "scale": {"type": "log", "domain": [2.404e-4, 6.745e9], "nice": false},
   "axis": {"values": [0.01, 1, 100, 10000, 1000000, 100000000], "labelExpr": "['10⁻²','10⁰','10²','10⁴','10⁶','10⁸'][round(log(datum.value)/LN10/2)+1]", "labelPadding": 14, "labelFlush": false, "labelOverlap": false}},
 "y": {"field": "y", "type": "quantitative",
   "scale": {"domain": [-0.0479, 1.1427], "nice": false, "zero": false},
   "axis": {"values": [0, 0.2, 0.4, 0.6, 0.8, 1.0], "format": ".1f", "labelPadding": 18}},
 "color": {"field": "lt", "type": "nominal",
   "scale": {"domain": ["0.04","0.02","0.002","0.0006","0.0004","0.0003","0.0002"], "range": ["#000000","#0000ff","#ff0000","#008000","#ee82ee","#00ffff","#00ff00"]},
   "legend": {"title": null, "orient": "none", "legendX": 1694, "legendY": 219, "symbolType": "stroke", "symbolSize": 71289, "symbolStrokeWidth": 6, "clipHeight": 70, "labelFont": "Liberation Serif", "labelFontSize": 70, "labelLimit": 1000, "labelOffset": 32, "rowPadding": 39, "padding": 0, "labelColor": "black", "labelExpr": "'λT = ' + datum.label"}}
}
},
{
"data": {"values": [{}]},
"mark": {"type": "rect", "fill": "white"},
"encoding": {"x": {"datum": 4.32e-4}, "x2": {"datum": 2.39}, "y": {"datum": 1.071}, "y2": {"datum": 0.917}}
},
{
"data": {"values": [{}]},
"mark": {"type": "rect", "fill": "white"},
"encoding": {"x": {"datum": 1.18e7}, "x2": {"datum": 3.33e9}, "y": {"datum": 0.1333}, "y2": {"datum": -0.0094}}
},
{
"data": {"values": [{}]},
"mark": {"type": "text", "font": "Liberation Serif", "fontStyle": "italic", "fontSize": 100, "align": "center", "baseline": "alphabetic", "color": "black"},
"encoding": {"x": {"datum": 8.05e-4}, "y": {"datum": 0.9667}, "text": {"value": "I"}}
},
{
"data": {"values": [{}]},
"mark": {"type": "text", "font": "Liberation Serif", "fontSize": 138, "align": "center", "baseline": "alphabetic", "color": "black"},
"encoding": {"x": {"datum": 3.04e-3}, "y": {"datum": 0.955}, "text": {"value": "("}}
},
{
"data": {"values": [{}]},
"mark": {"type": "text", "font": "Liberation Serif", "fontSize": 113, "align": "center", "baseline": "alphabetic", "color": "black"},
"encoding": {"x": {"datum": 6.55e-3}, "y": {"datum": 0.9635}, "text": {"value": "("}}
},
{
"data": {"values": [{}]},
"mark": {"type": "text", "font": "Liberation Serif", "fontStyle": "italic", "fontSize": 104, "align": "center", "baseline": "alphabetic", "color": "black"},
"encoding": {"x": {"datum": 0.0335}, "y": {"datum": 0.9667}, "text": {"value": "λT"}}
},
{
"data": {"values": [{}]},
"mark": {"type": "text", "font": "Liberation Serif", "fontSize": 113, "align": "center", "baseline": "alphabetic", "color": "black"},
"encoding": {"x": {"datum": 0.161}, "y": {"datum": 0.9635}, "text": {"value": ")"}}
},
{
"data": {"values": [{}]},
"mark": {"type": "text", "font": "Liberation Serif", "fontSize": 72, "align": "center", "baseline": "alphabetic", "color": "black"},
"encoding": {"x": {"datum": 0.353}, "y": {"datum": 1.0104}, "text": {"value": "4"}}
},
{
"data": {"values": [{}]},
"mark": {"type": "text", "font": "Liberation Serif", "fontStyle": "italic", "fontSize": 100, "align": "center", "baseline": "alphabetic", "color": "black"},
"encoding": {"x": {"datum": 0.714}, "y": {"datum": 0.9667}, "text": {"value": "t"}}
},
{
"data": {"values": [{}]},
"mark": {"type": "text", "font": "Liberation Serif", "fontSize": 138, "align": "center", "baseline": "alphabetic", "color": "black"},
"encoding": {"x": {"datum": 1.633}, "y": {"datum": 0.955}, "text": {"value": ")"}}
},
{
"data": {"values": [{}]},
"mark": {"type": "text", "font": "Liberation Serif", "fontSize": 115, "align": "center", "baseline": "alphabetic", "color": "black"},
"encoding": {"x": {"datum": 1.663e7}, "y": {"datum": 0.026}, "text": {"value": "("}}
},
{
"data": {"values": [{}]},
"mark": {"type": "text", "font": "Liberation Serif", "fontStyle": "italic", "fontSize": 104, "align": "center", "baseline": "alphabetic", "color": "black"},
"encoding": {"x": {"datum": 7.69e7}, "y": {"datum": 0.029}, "text": {"value": "λT"}}
},
{
"data": {"values": [{}]},
"mark": {"type": "text", "font": "Liberation Serif", "fontSize": 115, "align": "center", "baseline": "alphabetic", "color": "black"},
"encoding": {"x": {"datum": 3.78e8}, "y": {"datum": 0.026}, "text": {"value": ")"}}
},
{
"data": {"values": [{}]},
"mark": {"type": "text", "font": "Liberation Serif", "fontSize": 72, "align": "center", "baseline": "alphabetic", "color": "black"},
"encoding": {"x": {"datum": 9.93e8}, "y": {"datum": 0.074}, "text": {"value": "4"}}
},
{
"data": {"values": [{}]},
"mark": {"type": "text", "font": "Liberation Serif", "fontStyle": "italic", "fontSize": 100, "align": "center", "baseline": "alphabetic", "color": "black"},
"encoding": {"x": {"datum": 2.27e9}, "y": {"datum": 0.029}, "text": {"value": "t"}}
}
]
}
